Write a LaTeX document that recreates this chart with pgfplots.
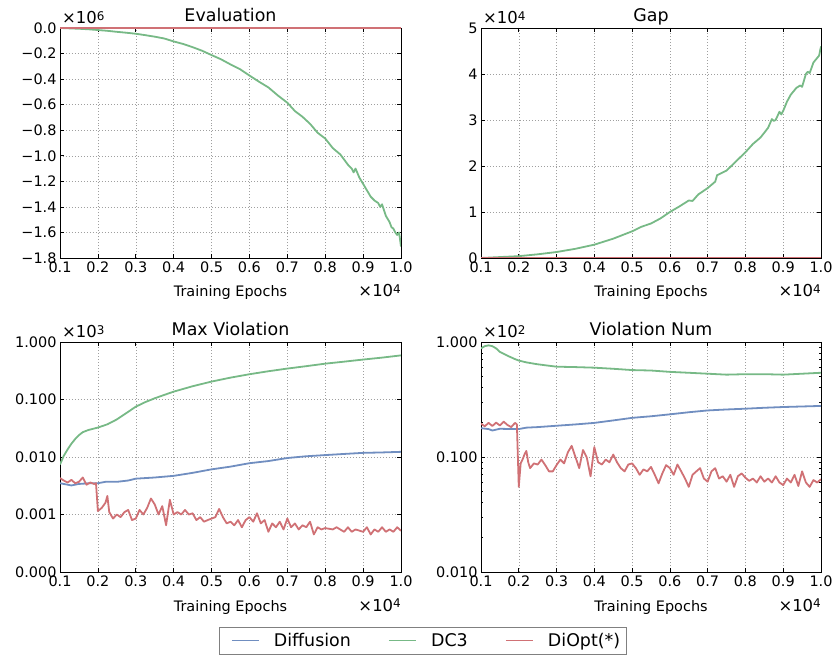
\documentclass[border=0pt]{standalone}
\usepackage{fontspec}
\setmainfont{DejaVu Sans}
\usepackage{pgfplots}
\pgfplotsset{compat=1.18}
\definecolor{cblue}{HTML}{708EC0}
\definecolor{cgreen}{HTML}{77B986}
\definecolor{cred}{HTML}{D07175}
\pgfplotsset{
 myax/.style={
  scale only axis, width=341bp, height=230bp, anchor=south west,
  clip mode=individual,
  xmin=0.1, xmax=1.0,
  xtick={0.1,0.2,0.3,0.4,0.5,0.6,0.7,0.8,0.9,1.0},
  xticklabels={0.1,0.2,0.3,0.4,0.5,0.6,0.7,0.8,0.9,1.0},
  grid=major,
  major grid style={gray!75, line width=0.5pt, dash pattern=on 1pt off 2pt},
  axis line style={line width=0.9pt},
  tick style={black, line width=0.7pt},
  major tick length=4bp, minor tick length=2.2bp,
  tick label style={font=\fontsize{14.5}{16}\selectfont},
  /pgf/number format/assume math mode=true,
  title style={font=\fontsize{17.5}{20}\selectfont, at={(0.5,1)}, anchor=base, yshift=1bp},
  xlabel={Training Epochs},
  xlabel style={font=\fontsize{14.5}{16}\selectfont, at={(0.5,0)}, anchor=base, yshift=-39bp},
  every axis plot/.append style={line width=1.8bp, no markers, line join=round},
 },
 legA/.style={legend image code/.code={\path[draw=none] (-8bp,0bp) -- (40.2bp,0bp); \draw[##1, line width=1.8bp] (0bp,0bp) -- (27bp,0bp);}},
 legB/.style={legend image code/.code={\path[draw=none] (-36bp,0bp) -- (40.2bp,0bp); \draw[##1, line width=1.8bp] (0bp,0bp) -- (27bp,0bp);}},
}
\newcommand{\scl}[1]{\fontsize{16.5}{18}\selectfont ×10\raisebox{3.6bp}{\fontsize{12}{13}\selectfont #1}}
\begin{document}
\begin{tikzpicture}
\useasboundingbox (0,0) rectangle (835bp,658bp);
% ---------------- Evaluation
\begin{axis}[myax, at={(60bp,400bp)}, title={Evaluation},
  ymin=-1.8, ymax=0,
  ytick={-1.8,-1.6,-1.4,-1.2,-1.0,-0.8,-0.6,-0.4,-0.2,0},
  yticklabels={−1.8,−1.6,−1.4,−1.2,−1.0,−0.8,−0.6,−0.4,−0.2,0.0}]
\addplot[cblue] coordinates {(0.1,0) (1.0,0)};
\addplot[cgreen] coordinates {
(0.10,0.000) (0.125,-0.003) (0.15,-0.006) (0.175,-0.010) (0.20,-0.016)
(0.225,-0.022) (0.25,-0.030) (0.275,-0.037) (0.30,-0.045) (0.325,-0.056)
(0.35,-0.068) (0.375,-0.082) (0.40,-0.105) (0.425,-0.125) (0.45,-0.150)
(0.475,-0.178) (0.50,-0.212) (0.525,-0.245) (0.55,-0.285) (0.575,-0.322)
(0.60,-0.372) (0.625,-0.420) (0.65,-0.465) (0.675,-0.528) (0.70,-0.585)
(0.72,-0.65) (0.74,-0.695) (0.76,-0.75) (0.78,-0.82) (0.80,-0.865)
(0.82,-0.94) (0.84,-0.99) (0.86,-1.07) (0.87,-1.10) (0.875,-1.13)
(0.88,-1.10) (0.89,-1.17) (0.90,-1.22) (0.91,-1.27) (0.92,-1.32)
(0.93,-1.35) (0.94,-1.37) (0.945,-1.40) (0.95,-1.38) (0.96,-1.47)
(0.97,-1.52) (0.975,-1.56) (0.98,-1.57) (0.985,-1.60) (0.99,-1.62)
(0.995,-1.60) (1.00,-1.71)};
\addplot[cred] coordinates {(0.1,0) (1.0,0)};
\node[anchor=base west, inner sep=0pt, xshift=2bp, yshift=4bp] at (rel axis cs:0,1) {\scl{6}};
\node[anchor=base east, inner sep=0pt, yshift=-39bp] at (rel axis cs:1,0) {\scl{4}};
\end{axis}
% ---------------- Gap
\begin{axis}[myax, at={(481bp,400bp)}, width=340bp, title={Gap},
  ymin=0, ymax=5, ytick={0,1,2,3,4,5}, yticklabels={0,1,2,3,4,5}]
\addplot[cblue] coordinates {(0.1,0) (1.0,0)};
\addplot[cgreen] coordinates {
(0.10,0.00) (0.15,0.02) (0.20,0.04) (0.25,0.08) (0.30,0.13) (0.35,0.20)
(0.40,0.29) (0.45,0.42) (0.50,0.58) (0.525,0.68) (0.55,0.75) (0.575,0.86)
(0.60,1.00) (0.625,1.12) (0.65,1.25) (0.66,1.24) (0.675,1.38) (0.70,1.52)
(0.72,1.66) (0.725,1.80) (0.75,1.90) (0.775,2.10) (0.80,2.30) (0.82,2.48)
(0.84,2.62) (0.86,2.83) (0.87,3.02) (0.875,2.98) (0.88,3.00) (0.89,3.18)
(0.895,3.12) (0.90,3.20) (0.91,3.40) (0.92,3.55) (0.935,3.70) (0.945,3.75)
(0.95,3.72) (0.96,4.00) (0.965,4.05) (0.97,4.02) (0.98,4.25) (0.99,4.35)
(0.995,4.40) (1.00,4.60)};
\addplot[cred] coordinates {(0.1,0) (1.0,0)};
\node[anchor=base west, inner sep=0pt, xshift=2bp, yshift=4bp] at (rel axis cs:0,1) {\scl{4}};
\node[anchor=base east, inner sep=0pt, yshift=-39bp] at (rel axis cs:1,0) {\scl{4}};
\end{axis}
% ---------------- Max Violation
\begin{axis}[myax, at={(60bp,86bp)}, title={Max Violation},
  ymode=log, ymin=0.1, ymax=1000, yminorticks=false,
  ytick={0.1,1,10,100,1000},
  yticklabels={0.000,0.001,0.010,0.100,1.000},
  legend columns=3,
  legend style={at={(1.0645,-0.298)}, anchor=center, draw=gray, line width=0.8pt,
    font=\fontsize{17.5}{20}\selectfont, inner xsep=4bp, inner ysep=4bp}]
\addplot[cblue, legA] coordinates {
(0.10,3.5) (0.12,3.3) (0.13,3.2) (0.15,3.4) (0.18,3.5) (0.20,3.5) (0.22,3.7)
(0.25,3.7) (0.28,3.9) (0.30,4.2) (0.35,4.4) (0.40,4.7) (0.45,5.3) (0.50,6.1)
(0.55,6.8) (0.60,7.8) (0.65,8.5) (0.70,9.6) (0.75,10.3) (0.80,10.8) (0.85,11.3)
(0.90,11.8) (0.95,12.0) (1.00,12.3)};
\addlegendentry{Diffusion}
\addplot[cgreen, legB] coordinates {
(0.100,7.4) (0.110,10.5) (0.120,13.5) (0.130,17) (0.140,20.5) (0.150,24)
(0.160,27) (0.175,29.5) (0.200,32.5) (0.225,37) (0.250,45) (0.275,58)
(0.300,75) (0.325,90) (0.350,105) (0.375,120) (0.400,137) (0.450,170)
(0.500,205) (0.550,240) (0.600,275) (0.650,310) (0.700,345) (0.750,380)
(0.800,420) (0.850,455) (0.900,495) (0.950,535) (1.000,585)};
\addlegendentry{DC3}
\addplot[cred, legB] coordinates {
(0.10,4.3) (0.11,3.9) (0.12,3.6) (0.13,4.0) (0.14,3.5) (0.15,3.7) (0.16,4.4)
(0.17,3.3) (0.18,3.6) (0.19,3.4) (0.195,3.5) (0.20,1.15) (0.21,1.3) (0.22,1.6)
(0.225,2.1) (0.23,1.1) (0.24,0.85) (0.25,1.0) (0.26,0.9) (0.27,1.1) (0.28,1.2)
(0.29,0.8) (0.30,0.85) (0.31,1.2) (0.32,1.0) (0.33,1.3) (0.34,1.9) (0.35,1.5)
(0.36,1.0) (0.37,1.4) (0.38,0.65) (0.39,1.8) (0.40,1.0) (0.41,1.1) (0.42,1.0)
(0.43,1.2) (0.44,1.0) (0.45,1.05) (0.46,0.8) (0.47,0.9) (0.48,0.75) (0.49,0.8)
(0.50,0.85) (0.51,0.9) (0.52,1.25) (0.53,0.9) (0.54,0.7) (0.55,0.75) (0.56,0.65)
(0.57,0.8) (0.58,0.6) (0.59,0.8) (0.60,0.9) (0.61,0.75) (0.62,1.05) (0.63,0.7)
(0.64,0.8) (0.65,0.5) (0.66,0.7) (0.67,0.6) (0.68,0.75) (0.69,0.55) (0.70,0.85)
(0.71,0.6) (0.72,0.7) (0.73,0.55) (0.74,0.65) (0.75,0.6) (0.76,0.75) (0.77,0.45)
(0.78,0.6) (0.79,0.55) (0.80,0.58) (0.82,0.55) (0.83,0.6) (0.85,0.5) (0.86,0.6)
(0.87,0.5) (0.88,0.55) (0.90,0.5) (0.91,0.6) (0.92,0.45) (0.93,0.55) (0.94,0.5)
(0.95,0.6) (0.96,0.5) (0.97,0.55) (0.98,0.5) (0.99,0.6) (1.00,0.52)};
\addlegendentry{DiOpt(*)}
\node[anchor=base west, inner sep=0pt, xshift=2bp, yshift=4bp] at (rel axis cs:0,1) {\scl{3}};
\node[anchor=base east, inner sep=0pt, yshift=-39bp] at (rel axis cs:1,0) {\scl{4}};
\end{axis}
% ---------------- Violation Num
\begin{axis}[myax, at={(481bp,86bp)}, width=340bp, title={Violation Num},
  ymode=log, ymin=1, ymax=100,
  ytick={1,10,100}, yticklabels={0.010,0.100,1.000}]
\addplot[cblue] coordinates {
(0.10,17.8) (0.12,17.5) (0.13,17.0) (0.15,17.6) (0.18,17.5) (0.20,17.5)
(0.22,18.0) (0.25,18.2) (0.30,18.7) (0.35,19.2) (0.40,19.8) (0.45,20.8)
(0.50,21.9) (0.55,22.6) (0.60,23.5) (0.65,24.5) (0.70,25.4) (0.75,25.9)
(0.80,26.3) (0.85,26.8) (0.90,27.2) (0.95,27.5) (1.00,27.8)};
\addplot[cgreen] coordinates {
(0.10,88) (0.11,92) (0.12,93.5) (0.13,92) (0.14,88) (0.15,82) (0.17,76)
(0.19,71) (0.20,69) (0.22,66.5) (0.25,64) (0.30,61) (0.35,60.5) (0.40,59.8)
(0.45,58.5) (0.50,57) (0.55,56.5) (0.60,55) (0.65,54) (0.70,53) (0.75,52)
(0.80,52.5) (0.85,52.5) (0.90,52) (0.95,53) (1.00,54)};
\addplot[cred] coordinates {
(0.10,19.5) (0.11,18.5) (0.12,19.8) (0.13,18.6) (0.14,19.9) (0.15,18.8)
(0.16,20.3) (0.17,19.0) (0.18,18.2) (0.19,19.8) (0.195,19.2) (0.20,5.5)
(0.205,8.8) (0.21,9.5) (0.215,10.5) (0.22,11.3) (0.225,9.0) (0.23,8.0)
(0.24,8.8) (0.25,8.6) (0.26,9.5) (0.27,8.5) (0.28,7.5) (0.29,7.5) (0.30,8.5)
(0.31,9.5) (0.32,8.8) (0.33,11.0) (0.34,12.5) (0.35,10.0) (0.36,8.0)
(0.37,11.5) (0.38,9.9) (0.39,6.8) (0.40,12.2) (0.41,9.0) (0.42,8.6) (0.43,9.5)
(0.44,9.0) (0.45,10.5) (0.46,9.0) (0.47,8.0) (0.48,7.5) (0.49,8.6) (0.50,8.8)
(0.51,8.0) (0.52,7.0) (0.53,7.8) (0.54,7.5) (0.55,8.2) (0.56,7.0) (0.57,5.9)
(0.58,7.2) (0.59,8.5) (0.60,8.0) (0.61,7.0) (0.62,8.6) (0.63,7.5) (0.64,6.5)
(0.65,5.5) (0.66,7.0) (0.67,7.5) (0.68,8.0) (0.69,6.5) (0.70,6.1) (0.71,7.5)
(0.72,8.0) (0.73,6.5) (0.74,6.8) (0.75,6.1) (0.76,7.0) (0.77,5.5) (0.78,6.8)
(0.79,7.2) (0.80,6.6) (0.81,6.2) (0.82,6.5) (0.83,6.0) (0.84,6.8) (0.85,6.1)
(0.86,6.5) (0.87,6.0) (0.88,6.8) (0.89,6.0) (0.90,5.7) (0.91,6.5) (0.92,6.0)
(0.93,7.0) (0.94,5.6) (0.95,7.5) (0.96,6.0) (0.97,5.5) (0.98,6.3) (0.99,6.0)
(1.00,6.4)};
\node[anchor=base west, inner sep=0pt, xshift=2bp, yshift=4bp] at (rel axis cs:0,1) {\scl{2}};
\node[anchor=base east, inner sep=0pt, yshift=-39bp] at (rel axis cs:1,0) {\scl{4}};
\end{axis}
\end{tikzpicture}
\end{document}
